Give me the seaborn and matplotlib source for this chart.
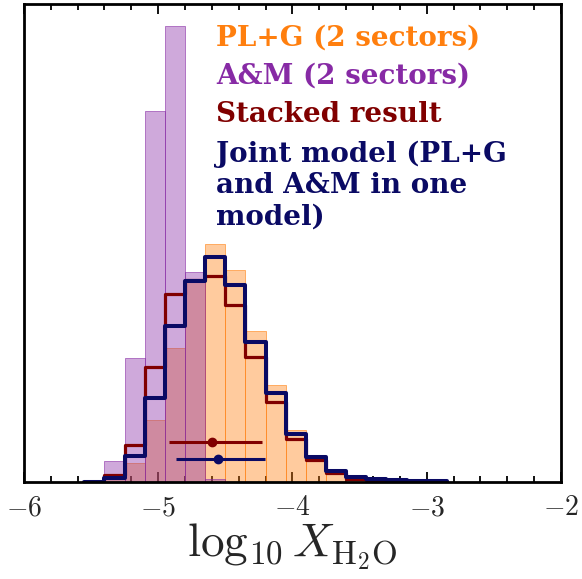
import numpy as np
import pandas as pd
import matplotlib
matplotlib.use("Agg")
import matplotlib.pyplot as plt
import seaborn as sns
from matplotlib.ticker import MultipleLocator, FixedLocator, FixedFormatter

# histogram bin edges in log10 X_H2O
bin_edges = [-5.55, -5.40, -5.25, -5.10, -4.95, -4.80, -4.65, -4.50, -4.35, -4.20,
             -4.05, -3.90, -3.75, -3.60, -3.45, -3.30, -3.15, -3.00, -2.85]

# bin heights (arbitrary density units)
plg_heights = [1, 5, 19, 62, 134, 202, 238.5, 212, 151, 97, 52, 23, 9, 3, 1, 0.5, 0, 0]
am_heights = [1.5, 21, 124, 371, 456, 210, 3, 0.5, 0, 0, 0, 0, 0, 0, 0, 0, 0, 0]
stacked_heights = [0, 7, 37, 115, 188.5, 202, 206, 177, 125, 80, 43, 22, 9.3, 3, 1.7, 0.7, 0.3, 0]
joint_heights = [0, 4, 26, 84, 156, 201, 225, 197.5, 140, 89.5, 48, 25, 11, 5.3, 2.7, 1.7, 1, 0.7]

# median and 1-sigma range of the stacked / joint posteriors
stacked_med, stacked_lo, stacked_hi = -4.60, -4.918, -4.23
joint_med, joint_lo, joint_hi = -4.552, -4.870, -4.204

xtick_vals = [-6, -5, -4, -3, -2]
xtick_labels = [r"$-6$", r"$-5$", r"$-4$", r"$-3$", r"$-2$"]

legend_labels = [
    "PL+G (2 sectors)",
    "A&M (2 sectors)",
    "Stacked result",
    "Joint model (PL+G",
    "and A&M in one",
    "model)",
]

c_plg = "#ff7f0e"
c_am = "#872aa5"
c_stack = "#800000"
c_joint = "#0a0a64"

sns.set_style("ticks")
plt.rcParams["mathtext.fontset"] = "cm"

centers = [(a + b) / 2 for a, b in zip(bin_edges[:-1], bin_edges[1:])]
df = pd.DataFrame({
    "x": centers,
    "plg": plg_heights,
    "am": am_heights,
    "stacked": stacked_heights,
    "joint": joint_heights,
})

fig, ax = plt.subplots(figsize=(5.82, 5.79), dpi=100)
fig.subplots_adjust(left=0.041, right=0.964, bottom=0.1675, top=0.993)

sns.histplot(data=df, x="x", weights="plg", bins=bin_edges, element="bars",
             color=c_plg, alpha=0.4, edgecolor=c_plg, linewidth=0.4, ax=ax)
sns.histplot(data=df, x="x", weights="am", bins=bin_edges, element="bars",
             color=c_am, alpha=0.4, edgecolor=c_am, linewidth=0.4, ax=ax)
sns.histplot(data=df, x="x", weights="stacked", bins=bin_edges, element="step",
             fill=False, color=c_stack, linewidth=2.3, ax=ax)
sns.histplot(data=df, x="x", weights="joint", bins=bin_edges, element="step",
             fill=False, color=c_joint, linewidth=2.9, ax=ax)

# error bars near the bottom
ax.errorbar([stacked_med], [40], xerr=[[stacked_med - stacked_lo], [stacked_hi - stacked_med]],
            fmt="o", color=c_stack, ms=6, elinewidth=2.2, capsize=0)
ax.errorbar([joint_med], [23.5], xerr=[[joint_med - joint_lo], [joint_hi - joint_med]],
            fmt="o", color=c_joint, ms=6, elinewidth=2.2, capsize=0)

# legend as coloured text
text_colors = [c_plg, c_am, c_stack, c_joint, c_joint, c_joint]
text_y = [0.912, 0.8326, 0.7538, 0.670, 0.604, 0.5377]
for lab, col, yy in zip(legend_labels, text_colors, text_y):
    ax.text(0.358, yy, lab, color=col, fontsize=20, fontweight="bold",
            family="DejaVu Serif", va="baseline", ha="left", transform=ax.transAxes)

ax.set_xlim(-6, -2)
ax.set_ylim(0, 478)
ax.set_yticks([])
ax.set_ylabel("")
ax.xaxis.set_major_locator(FixedLocator(xtick_vals))
ax.xaxis.set_major_formatter(FixedFormatter(xtick_labels))
ax.xaxis.set_minor_locator(MultipleLocator(0.2))
ax.tick_params(axis="x", which="both", direction="in", top=True, bottom=True,
               labelsize=20, pad=8, width=1.3, color="black")
ax.tick_params(axis="x", which="major", length=7)
ax.tick_params(axis="x", which="minor", length=4)
ax.set_xlabel(r"$\log_{10}X_{\rm H_2O}$", fontsize=34, labelpad=0)
for sp in ax.spines.values():
    sp.set_visible(True)
    sp.set_linewidth(2.0)
    sp.set_color("black")

fig.savefig("out.png", dpi=100)
